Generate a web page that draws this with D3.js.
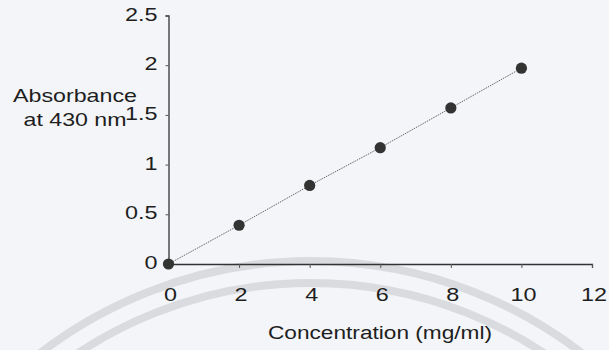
<!DOCTYPE html>
<html><head><meta charset="utf-8">
<script src="https://cdn.jsdelivr.net/npm/d3@7"></script>
<style>
html,body{margin:0;padding:0;background:#f3f5f8;}
svg{display:block;}
text{font-family:"Liberation Sans",Arial,sans-serif;fill:#1e1e1e;}
</style></head>
<body>
<script>
const concentrations = [0, 2, 4, 6, 8, 10];
const absorbance = [0, 0.39, 0.79, 1.17, 1.57, 1.97];
const xTicks = [0, 2, 4, 6, 8, 10, 12];
const yTicks = [0, 0.5, 1, 1.5, 2, 2.5];
const xTitle = "Concentration (mg/ml)";
const yTitleLines = ["Absorbance", "at 430 nm"];

const W = 609, H = 350;
const STRETCH = 1.3;
const svg = d3.select("body").append("svg").attr("width", W).attr("height", H);
svg.append("rect").attr("width", W).attr("height", H).attr("fill", "#f3f5f8");

// faint watermark arcs
const wm = svg.append("g").attr("fill", "none").attr("stroke", "#d9dbde").attr("stroke-width", 8);
[444, 422].forEach(r => {
  wm.append("path").attr("d", d3.arc()({innerRadius: r, outerRadius: r, startAngle: -Math.PI/2, endAngle: Math.PI/2}))
    .attr("transform", "translate(311,705)");
});

const x = d3.scaleLinear().domain([0, 12]).range([168.5, 592]);
const y = d3.scaleLinear().domain([0, 2.5]).range([264, 15.5]);

const xAxis = svg.append("g").attr("transform", `translate(0,${y(0)})`)
  .call(d3.axisBottom(x).tickValues(xTicks).tickSize(4).tickPadding(20).tickFormat(d3.format("d")));
const yAxis = svg.append("g").attr("transform", `translate(${x(0)},0)`)
  .call(d3.axisLeft(y).tickValues(yTicks).tickSize(3).tickPadding(8).tickFormat(d => String(d)));
[xAxis, yAxis].forEach(a => {
  a.select(".domain").attr("stroke", "#333").attr("stroke-width", 1.3);
  a.selectAll(".tick line").attr("stroke", "#555");
  a.selectAll(".tick text").attr("font-size", 18).attr("fill", "#1e1e1e")
    .attr("font-family", '"Liberation Sans",Arial,sans-serif')
    .attr("transform", `scale(${STRETCH},1)`);
});
xAxis.selectAll(".tick text").attr("x", 1.5 / STRETCH);
yAxis.selectAll(".tick text").attr("x", -11 / STRETCH).attr("dy", "0.25em");

const pts = concentrations.map((c, i) => [c, absorbance[i]]);
svg.append("path").datum(pts)
  .attr("d", d3.line().x(d => x(d[0])).y(d => y(d[1])))
  .attr("fill", "none").attr("stroke", "#666").attr("stroke-width", 1).attr("stroke-dasharray", "1.5,1");

svg.append("g").selectAll("circle").data(pts).join("circle")
  .attr("cx", d => x(d[0])).attr("cy", d => y(d[1])).attr("r", 5.6).attr("fill", "#333");

svg.append("text").attr("x", 380).attr("y", 339).attr("text-anchor", "middle")
  .attr("font-size", 18).attr("textLength", 224).attr("lengthAdjust", "spacingAndGlyphs").text(xTitle);

const yLens = [124, 103];
svg.append("g").selectAll("text").data(yTitleLines).join("text")
  .attr("x", 75).attr("y", (d, i) => 102 + i * 24).attr("text-anchor", "middle")
  .attr("font-size", 19).attr("textLength", (d, i) => yLens[i]).attr("lengthAdjust", "spacingAndGlyphs")
  .text(d => d);
</script>
</body></html>
